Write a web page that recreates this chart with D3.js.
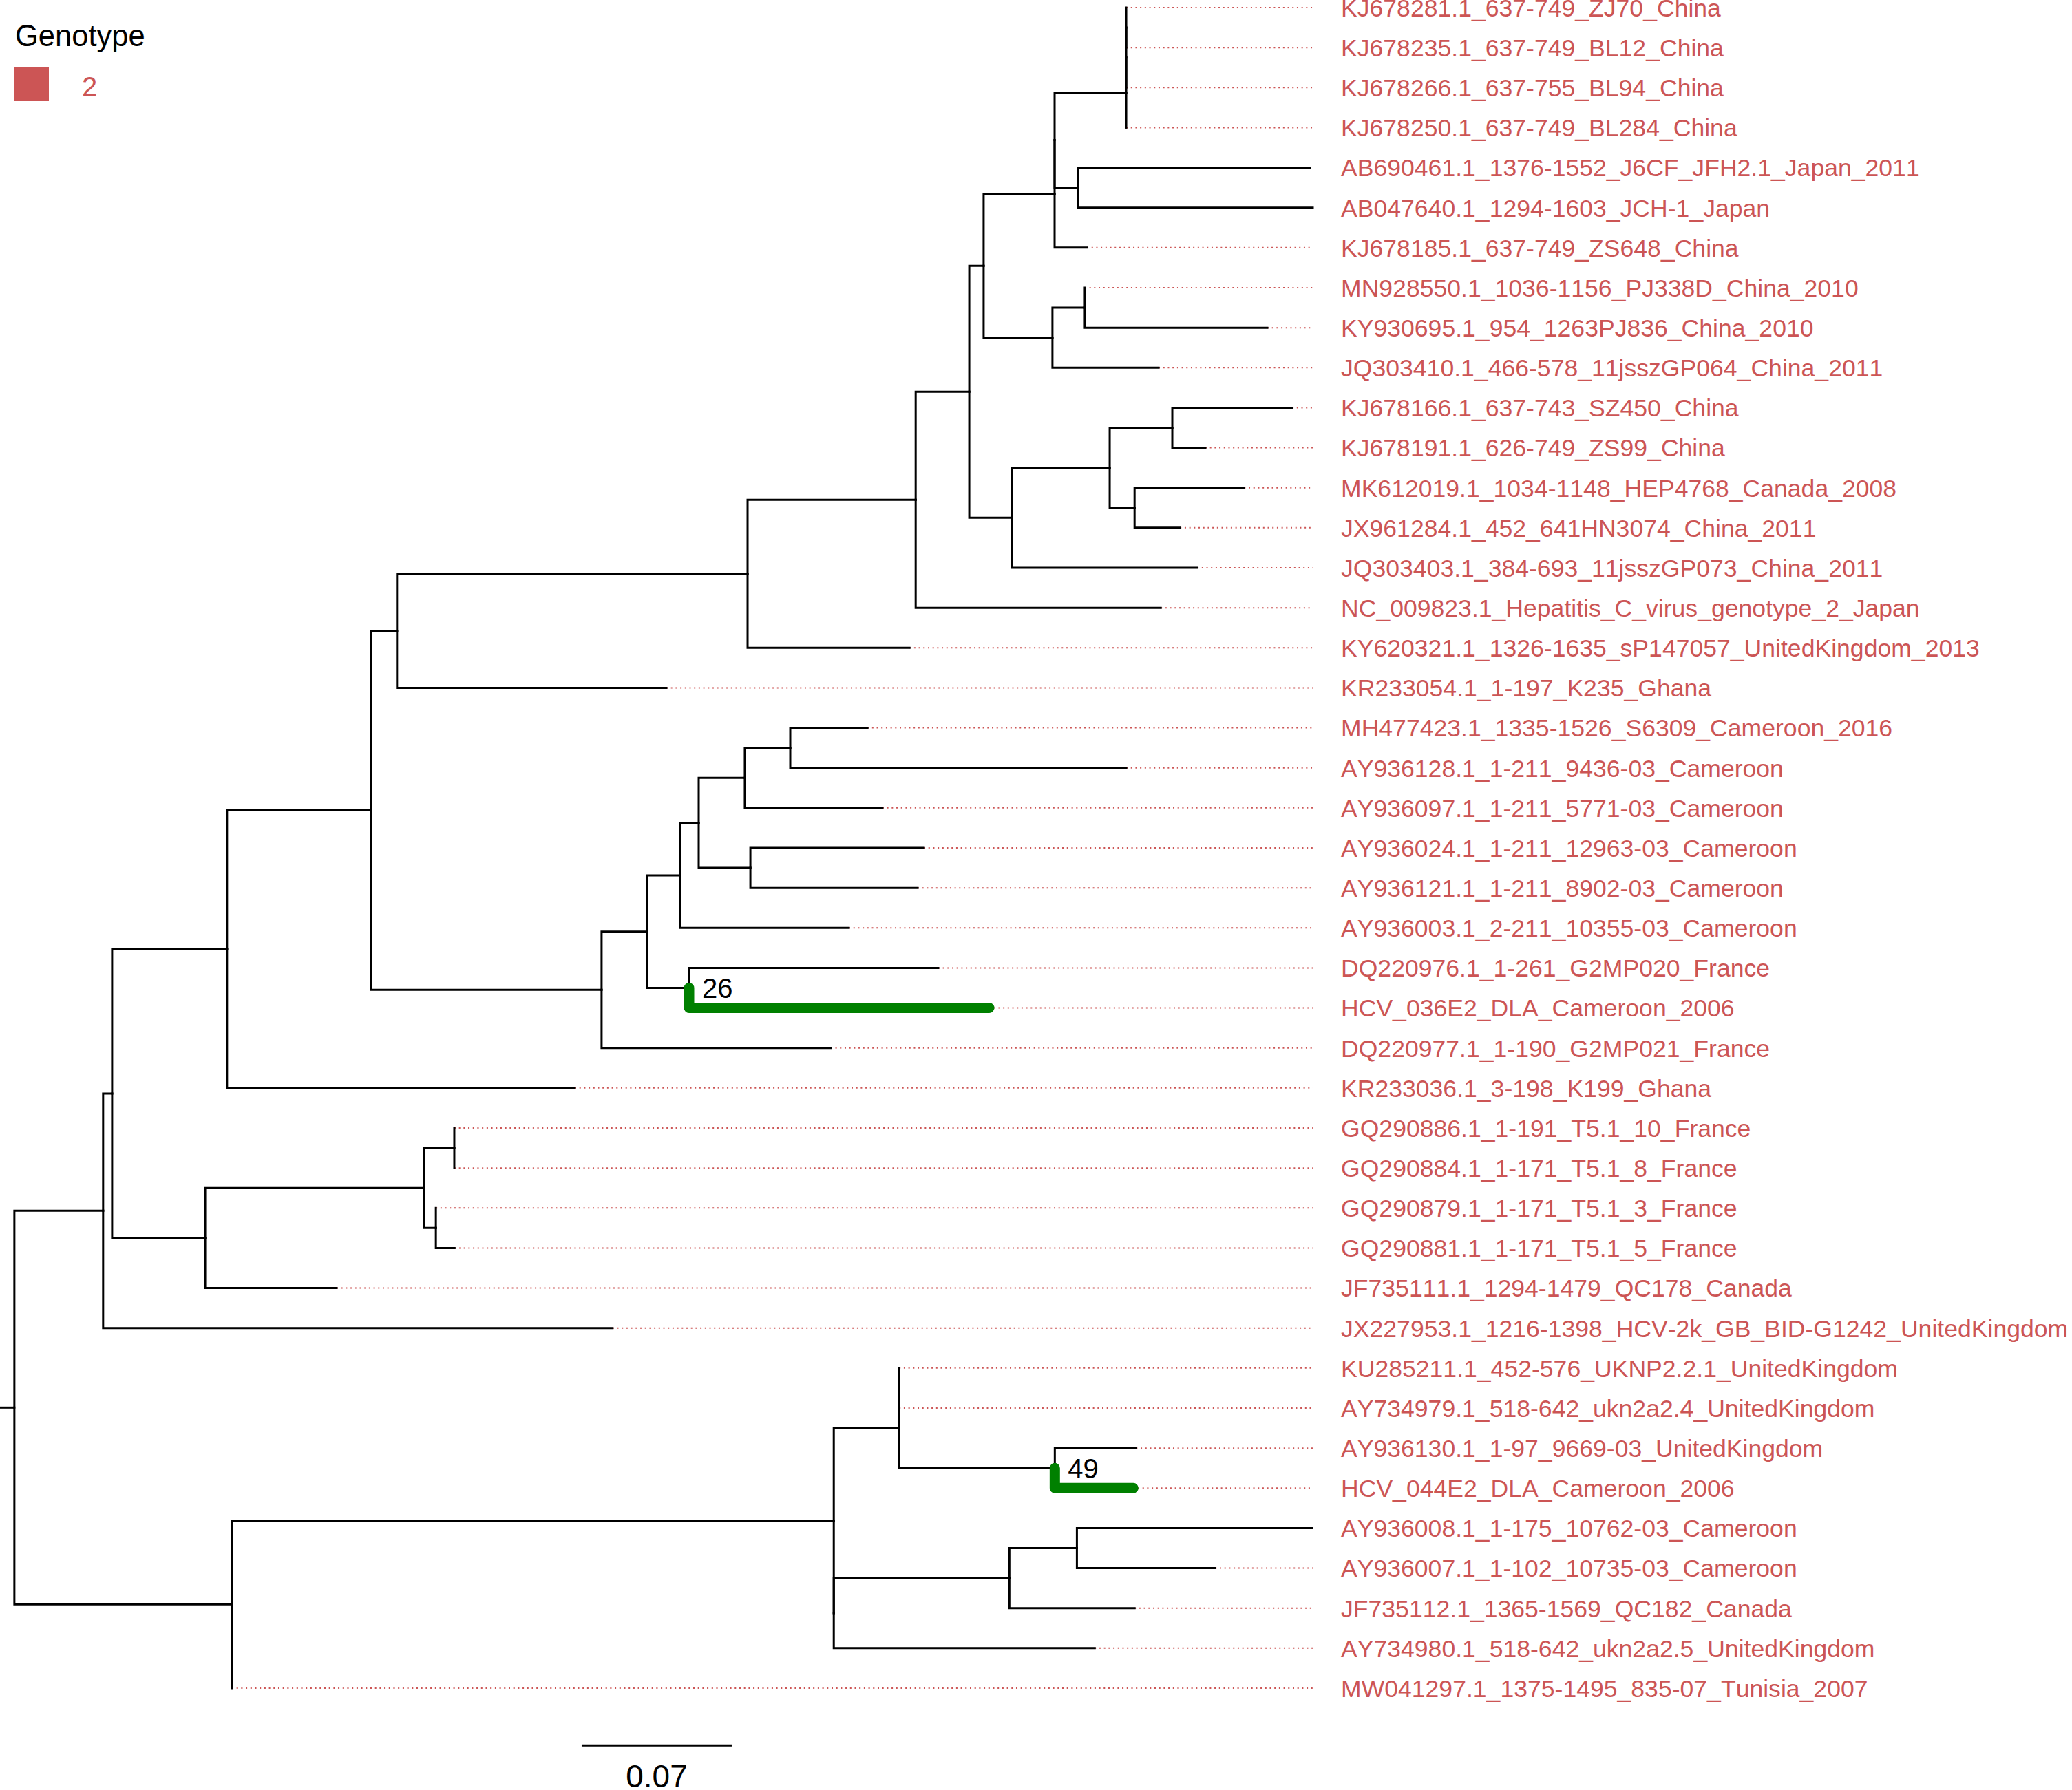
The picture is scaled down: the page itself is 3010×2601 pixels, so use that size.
<!DOCTYPE html>
<html>
<head>
<meta charset="utf-8">
<script src="https://cdn.jsdelivr.net/npm/d3@7"></script>
<style>
  body { margin: 0; background: #fff; }
  svg { display: block; font-family: "Liberation Sans", Arial, Helvetica, sans-serif; font-kerning: none; }
</style>
</head>
<body>
<script>
// tip order, top to bottom
var tipOrder = [
  "KJ678281.1_637-749_ZJ70_China",
  "KJ678235.1_637-749_BL12_China",
  "KJ678266.1_637-755_BL94_China",
  "KJ678250.1_637-749_BL284_China",
  "AB690461.1_1376-1552_J6CF_JFH2.1_Japan_2011",
  "AB047640.1_1294-1603_JCH-1_Japan",
  "KJ678185.1_637-749_ZS648_China",
  "MN928550.1_1036-1156_PJ338D_China_2010",
  "KY930695.1_954_1263PJ836_China_2010",
  "JQ303410.1_466-578_11jsszGP064_China_2011",
  "KJ678166.1_637-743_SZ450_China",
  "KJ678191.1_626-749_ZS99_China",
  "MK612019.1_1034-1148_HEP4768_Canada_2008",
  "JX961284.1_452_641HN3074_China_2011",
  "JQ303403.1_384-693_11jsszGP073_China_2011",
  "NC_009823.1_Hepatitis_C_virus_genotype_2_Japan",
  "KY620321.1_1326-1635_sP147057_UnitedKingdom_2013",
  "KR233054.1_1-197_K235_Ghana",
  "MH477423.1_1335-1526_S6309_Cameroon_2016",
  "AY936128.1_1-211_9436-03_Cameroon",
  "AY936097.1_1-211_5771-03_Cameroon",
  "AY936024.1_1-211_12963-03_Cameroon",
  "AY936121.1_1-211_8902-03_Cameroon",
  "AY936003.1_2-211_10355-03_Cameroon",
  "DQ220976.1_1-261_G2MP020_France",
  "HCV_036E2_DLA_Cameroon_2006",
  "DQ220977.1_1-190_G2MP021_France",
  "KR233036.1_3-198_K199_Ghana",
  "GQ290886.1_1-191_T5.1_10_France",
  "GQ290884.1_1-171_T5.1_8_France",
  "GQ290879.1_1-171_T5.1_3_France",
  "GQ290881.1_1-171_T5.1_5_France",
  "JF735111.1_1294-1479_QC178_Canada",
  "JX227953.1_1216-1398_HCV-2k_GB_BID-G1242_UnitedKingdom",
  "KU285211.1_452-576_UKNP2.2.1_UnitedKingdom",
  "AY734979.1_518-642_ukn2a2.4_UnitedKingdom",
  "AY936130.1_1-97_9669-03_UnitedKingdom",
  "HCV_044E2_DLA_Cameroon_2006",
  "AY936008.1_1-175_10762-03_Cameroon",
  "AY936007.1_1-102_10735-03_Cameroon",
  "JF735112.1_1365-1569_QC182_Canada",
  "AY734980.1_518-642_ukn2a2.5_UnitedKingdom",
  "MW041297.1_1375-1495_835-07_Tunisia_2007"
];

// edges: [node, parent, branch length]
var edges = [
  ["root", null, 0.0067],
  ["nA", "root", 0.0414],
  ["nB", "root", 0.1015],
  ["nC", "nA", 0.0042],
  ["JX227953.1_1216-1398_HCV-2k_GB_BID-G1242_UnitedKingdom", "nA", 0.2376],
  ["nD", "nC", 0.0536],
  ["nE", "nC", 0.0434],
  ["nF", "nD", 0.0671],
  ["KR233036.1_3-198_K199_Ghana", "nD", 0.1622],
  ["nG", "nF", 0.0122],
  ["nH", "nF", 0.1076],
  ["nI", "nG", 0.1635],
  ["KR233054.1_1-197_K235_Ghana", "nG", 0.1256],
  ["nJ", "nI", 0.0784],
  ["KY620321.1_1326-1635_sP147057_UnitedKingdom_2013", "nI", 0.0755],
  ["nK", "nJ", 0.0250],
  ["NC_009823.1_Hepatitis_C_virus_genotype_2_Japan", "nJ", 0.1143],
  ["nL", "nK", 0.0067],
  ["nM", "nK", 0.0199],
  ["nN", "nL", 0.0331],
  ["nO", "nL", 0.0321],
  ["nN0", "nN", 0],
  ["KJ678185.1_637-749_ZS648_China", "nN", 0.0151],
  ["nP", "nN0", 0.0334],
  ["nQ", "nN0", 0.0109],
  ["nP2", "nP", 0],
  ["KJ678250.1_637-749_BL284_China", "nP", 0],
  ["nP1", "nP2", 0],
  ["KJ678266.1_637-755_BL94_China", "nP2", 0],
  ["KJ678281.1_637-749_ZJ70_China", "nP1", 0],
  ["KJ678235.1_637-749_BL12_China", "nP1", 0],
  ["AB690461.1_1376-1552_J6CF_JFH2.1_Japan_2011", "nQ", 0.1082],
  ["AB047640.1_1294-1603_JCH-1_Japan", "nQ", 0.1095],
  ["nS", "nO", 0.0151],
  ["JQ303410.1_466-578_11jsszGP064_China_2011", "nO", 0.0495],
  ["MN928550.1_1036-1156_PJ338D_China_2010", "nS", 0],
  ["KY930695.1_954_1263PJ836_China_2010", "nS", 0.0851],
  ["nT", "nM", 0.0456],
  ["JQ303403.1_384-693_11jsszGP073_China_2011", "nM", 0.0864],
  ["nU", "nT", 0.0292],
  ["nV", "nT", 0.0116],
  ["KJ678166.1_637-743_SZ450_China", "nU", 0.0559],
  ["KJ678191.1_626-749_ZS99_China", "nU", 0.0154],
  ["MK612019.1_1034-1148_HEP4768_Canada_2008", "nV", 0.0511],
  ["JX961284.1_452_641HN3074_China_2011", "nV", 0.0212],
  ["nW", "nH", 0.0212],
  ["DQ220977.1_1-190_G2MP021_France", "nH", 0.1069],
  ["nX", "nW", 0.0154],
  ["nY", "nW", 0.0196],
  ["nZ", "nX", 0.0087],
  ["AY936003.1_2-211_10355-03_Cameroon", "nX", 0.0787],
  ["nZ1", "nZ", 0.0215],
  ["nZ2", "nZ", 0.0241],
  ["nZ3", "nZ1", 0.0212],
  ["AY936097.1_1-211_5771-03_Cameroon", "nZ1", 0.0642],
  ["MH477423.1_1335-1526_S6309_Cameroon_2016", "nZ3", 0.0360],
  ["AY936128.1_1-211_9436-03_Cameroon", "nZ3", 0.1567],
  ["AY936024.1_1-211_12963-03_Cameroon", "nZ2", 0.0809],
  ["AY936121.1_1-211_8902-03_Cameroon", "nZ2", 0.0780],
  ["DQ220976.1_1-261_G2MP020_France", "nY", 0.1162],
  ["HCV_036E2_DLA_Cameroon_2006", "nY", 0.1400],
  ["nE1", "nE", 0.1021],
  ["JF735111.1_1294-1479_QC178_Canada", "nE", 0.0613],
  ["nE2", "nE1", 0.0141],
  ["nE3", "nE1", 0.0055],
  ["GQ290886.1_1-191_T5.1_10_France", "nE2", 0],
  ["GQ290884.1_1-171_T5.1_8_France", "nE2", 0],
  ["GQ290879.1_1-171_T5.1_3_France", "nE3", 0],
  ["GQ290881.1_1-171_T5.1_5_France", "nE3", 0.0087],
  ["nB1", "nB", 0.2807],
  ["MW041297.1_1375-1495_835-07_Tunisia_2007", "nB", 0],
  ["nB2", "nB1", 0.0305],
  ["nB3", "nB1", 0],
  ["nB4", "nB2", 0],
  ["nB5", "nB2", 0.0726],
  ["KU285211.1_452-576_UKNP2.2.1_UnitedKingdom", "nB4", 0],
  ["AY734979.1_518-642_ukn2a2.4_UnitedKingdom", "nB4", 0],
  ["AY936130.1_1-97_9669-03_UnitedKingdom", "nB5", 0.0379],
  ["HCV_044E2_DLA_Cameroon_2006", "nB5", 0.0366],
  ["nB6", "nB3", 0.0819],
  ["AY734980.1_518-642_ukn2a2.5_UnitedKingdom", "nB3", 0.1217],
  ["nB7", "nB6", 0.0315],
  ["JF735112.1_1365-1569_QC182_Canada", "nB6", 0.0584],
  ["AY936008.1_1-175_10762-03_Cameroon", "nB7", 0.1098],
  ["AY936007.1_1-102_10735-03_Cameroon", "nB7", 0.0645]
];

// highlighted tips and the support value shown at their parent node
var highlightTips = ["HCV_036E2_DLA_Cameroon_2006", "HCV_044E2_DLA_Cameroon_2006"];
var highlightLabels = ["26", "49"];

var genotypes = ["2"];
var genotypeColors = ["#cc5555"];

var scaleBarValue = 0.07;
var scaleBarStart = 0.2713;


var W = 3010, H = 2601;

var svg = d3.select("body").append("svg")
    .attr("width", W).attr("height", H);

svg.append("rect").attr("width", W).attr("height", H).attr("fill", "#fff");

var root = d3.stratify()
    .id(function(d){ return d[0]; })
    .parentId(function(d){ return d[1]; })
    (edges);

// cumulative distance from the start of the root edge
root.eachBefore(function(d){
  d.len = (d.parent ? d.parent.len : 0) + d.data[2];
});
var maxLen = d3.max(root.leaves(), function(d){ return d.len; });

var x = d3.scaleLinear()
    .domain([0, maxLen])
    .range([0, 1907]);

var yIdx = d3.scaleLinear()
    .domain([0, tipOrder.length - 1])
    .range([11, 2453]);

var tipIndex = {};
tipOrder.forEach(function(t, i){ tipIndex[t] = i; });

root.eachAfter(function(d){
  if (d.children) d.yy = d3.mean(d.children, function(c){ return c.yy; });
  else d.yy = yIdx(tipIndex[d.id]);
});

var color = d3.scaleOrdinal().domain(genotypes).range(genotypeColors);

var g = svg.append("g");

// dotted guides from tips to the aligned labels
g.selectAll(".guide")
  .data(root.leaves())
  .enter().append("line")
    .attr("class", "guide")
    .attr("x1", function(d){ return x(d.len); })
    .attr("x2", x(maxLen))
    .attr("y1", function(d){ return d.yy; })
    .attr("y2", function(d){ return d.yy; })
    .attr("stroke", color("2"))
    .attr("stroke-width", 2)
    .attr("stroke-dasharray", "2 4.7");

// root edge
g.append("line")
    .attr("x1", x(0)).attr("x2", x(root.len))
    .attr("y1", root.yy).attr("y2", root.yy)
    .attr("stroke", "#000").attr("stroke-width", 3);

function elbow(d){
  return "M" + x(d.parent.len) + "," + d.parent.yy +
         "V" + d.yy + "H" + x(d.len);
}

var links = root.descendants().filter(function(d){ return d.parent; });

g.selectAll(".branch")
  .data(links)
  .enter().append("path")
    .attr("class", "branch")
    .attr("d", elbow)
    .attr("fill", "none")
    .attr("stroke", "#000")
    .attr("stroke-width", 3)
    .attr("stroke-linecap", "square");

var hl = links.filter(function(d){ return highlightTips.indexOf(d.id) >= 0; });

g.selectAll(".hl")
  .data(hl)
  .enter().append("path")
    .attr("class", "hl")
    .attr("d", elbow)
    .attr("fill", "none")
    .attr("stroke", "#008000")
    .attr("stroke-width", 15)
    .attr("stroke-linecap", "round")
    .attr("stroke-linejoin", "round");

g.selectAll(".support")
  .data(hl)
  .enter().append("text")
    .attr("class", "support")
    .attr("x", function(d){ return x(d.parent.len) + 19; })
    .attr("y", function(d){ return d.parent.yy; })
    .attr("dy", "0.36em")
    .attr("font-size", 40)
    .attr("fill", "#000")
    .text(function(d){ return highlightLabels[highlightTips.indexOf(d.id)]; });

// tip labels
g.selectAll(".tiplab")
  .data(root.leaves())
  .enter().append("text")
    .attr("class", "tiplab")
    .attr("x", x(maxLen) + 41)
    .attr("y", function(d){ return d.yy; })
    .attr("dy", "0.36em")
    .attr("font-size", 35.6)
    .attr("fill", color("2"))
    .text(function(d){ return d.id; });

// scale bar
var sbY = yIdx(43.43);
g.append("line")
    .attr("x1", x(scaleBarStart)).attr("x2", x(scaleBarStart + scaleBarValue))
    .attr("y1", sbY).attr("y2", sbY)
    .attr("stroke", "#000").attr("stroke-width", 3);
g.append("text")
    .attr("x", x(scaleBarStart + scaleBarValue / 2))
    .attr("y", 2597)
    .attr("text-anchor", "middle")
    .attr("font-size", 46)
    .attr("fill", "#000")
    .text(scaleBarValue);

// legend
var leg = svg.append("g");
leg.append("text")
    .attr("x", 22).attr("y", 67)
    .attr("font-size", 43.5)
    .attr("fill", "#000")
    .text("Genotype");
var item = leg.selectAll(".item")
  .data(genotypes)
  .enter().append("g")
    .attr("class", "item")
    .attr("transform", function(d, i){ return "translate(21," + (98 + i * 58) + ")"; });
item.append("rect")
    .attr("width", 50).attr("height", 49)
    .attr("fill", function(d){ return color(d); });
item.append("text")
    .attr("x", 98).attr("y", 42)
    .attr("font-size", 40)
    .attr("fill", function(d){ return color(d); })
    .text(function(d){ return d; });
</script>
</body>
</html>
